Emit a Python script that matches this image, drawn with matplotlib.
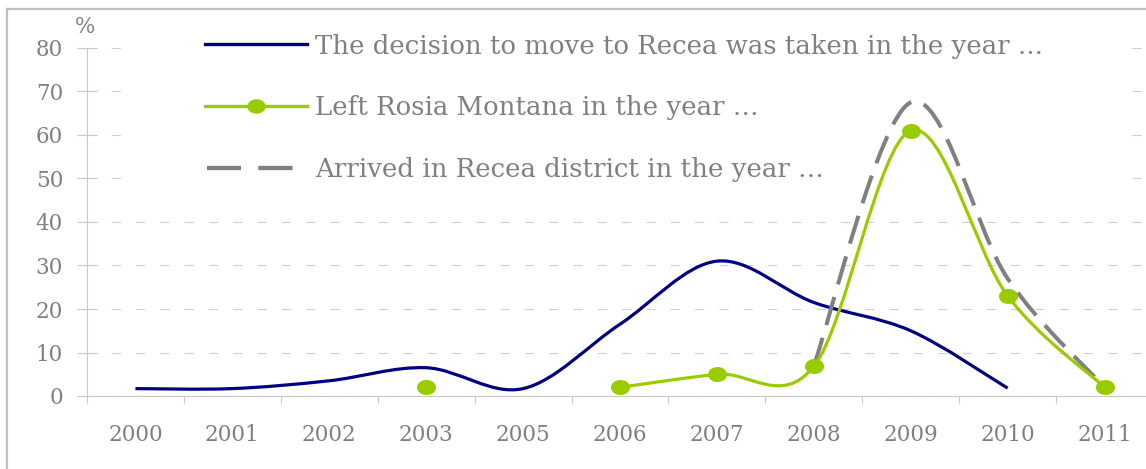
import numpy as np
import matplotlib
matplotlib.use("Agg")
import matplotlib.pyplot as plt
from matplotlib.path import Path
from matplotlib.patches import PathPatch, Rectangle
from matplotlib.lines import Line2D
from matplotlib.markers import MarkerStyle

plt.rcParams['font.family'] = ['DejaVu Serif']
plt.rcParams['lines.scale_dashes'] = False

# ---- data -------------------------------------------------------------
years = ['2000', '2001', '2002', '2003', '2005', '2006',
         '2007', '2008', '2009', '2010', '2011']
nan = np.nan
decision_taken = [1.7, 1.7, 3.5, 6.5, 1.7, 16.5, 31.0, 21.5, 15.0, 1.8, nan]
left_rosia = [nan, nan, nan, 2.0, nan, 2.0, 5.0, 6.8, 61.0, 23.0, 2.0]
arrived_recea = [nan, nan, nan, nan, nan, nan, nan, 7.0, 67.5, 27.0, 2.0]

labels = ['The decision to move to Recea was taken in the year ...',
          'Left Rosia Montana in the year \u2026',
          'Arrived in Recea district in the year \u2026']

NAVY = '#000080'
GREEN = '#99CC00'
DGRAY = '#808080'
TEXT = '#808080'
AXIS = '#C8C8C8'
GRID = '#CFCFCF'

W, H = 1146, 469
fig = plt.figure(figsize=(W / 100, H / 100), dpi=100)
fx = lambda px: px / W
fy = lambda py: 1 - py / H

ax = fig.add_axes([fx(87), 1 - 396 / H, 1066 / W, 348 / H])
x = np.arange(len(years))


def runs(vals):
    """Split a series into contiguous runs of finite values."""
    out, cur = [], []
    for i, v in enumerate(vals):
        if np.isfinite(v):
            cur.append(i)
        elif cur:
            out.append(cur)
            cur = []
    if cur:
        out.append(cur)
    return out


def smooth_path(xs, ys):
    """Cubic Bezier path through the points (smoothed line)."""
    n = len(xs)
    verts = [(xs[0], ys[0])]
    codes = [Path.MOVETO]
    for i in range(n - 1):
        a = i - 1 if i > 0 else i
        d = i + 2 if i + 2 < n else i + 1
        c1 = (xs[i] + (xs[i + 1] - xs[a]) / 6, ys[i] + (ys[i + 1] - ys[a]) / 6)
        c2 = (xs[i + 1] - (xs[d] - xs[i]) / 6, ys[i + 1] - (ys[d] - ys[i]) / 6)
        verts += [c1, c2, (xs[i + 1], ys[i + 1])]
        codes += [Path.CURVE4] * 3
    return Path(verts, codes)


def draw_series(vals, color, lw, ls, z):
    vals = np.asarray(vals, float)
    for r in runs(vals):
        if len(r) < 2:
            continue
        p = smooth_path(x[r].astype(float), vals[r])
        ax.add_patch(PathPatch(p, fill=False, edgecolor=color, lw=lw,
                               linestyle=ls, capstyle='butt',
                               joinstyle='round', zorder=z))


# elliptical marker
t = np.linspace(0, 2 * np.pi, 60)
ell = Path(np.column_stack([np.cos(t), 0.79 * np.sin(t)]), closed=True)
ell_marker = MarkerStyle(ell)

dash_plot = (0, (21.0, 9.5))
draw_series(decision_taken, NAVY, 2.3, '-', 2)
draw_series(arrived_recea, DGRAY, 2.9, dash_plot, 2.5)
draw_series(left_rosia, GREEN, 2.3, '-', 3)
ax.plot(x, left_rosia, linestyle='none', marker=ell_marker, ms=13.7,
        mfc=GREEN, mec=GREEN, mew=0, zorder=3.5)

# ---- axes styling -----------------------------------------------------
ax.set_xlim(-0.5, len(years) - 0.5)
ax.set_ylim(0, 80)
ax.set_yticks(np.arange(0, 81, 10))
ax.set_xticks(x)
ax.set_xticklabels(years)
ax.set_xticks(np.arange(-0.5, len(years), 1.0), minor=True)

for s in ['top', 'right']:
    ax.spines[s].set_visible(False)
for s in ['left', 'bottom']:
    ax.spines[s].set_color(AXIS)
    ax.spines[s].set_linewidth(0.8)

ax.tick_params(axis='y', which='major', direction='inout', length=13.7,
               width=0.8, color=AXIS, pad=10.4, labelsize=15.5,
               labelcolor=TEXT)
ax.tick_params(axis='x', which='major', length=0, pad=20, labelsize=15.5,
               labelcolor=TEXT)
ax.tick_params(axis='x', which='minor', direction='out', length=5,
               width=0.8, color=AXIS)

ax.set_axisbelow(True)
ax.yaxis.grid(True, color=GRID, lw=0.8, linestyle=(0, (6.5, 11.0)))

# white backdrop of the legend area over the grid
ax.add_patch(Rectangle((-0.11, 45), 10.28, 37, facecolor='white',
                       edgecolor='none', zorder=1.5, clip_on=False))

# ---- legend -----------------------------------------------------------
rows = [44.3, 106.0, 167.7]
fig.add_artist(Line2D([fx(205), fx(307)], [fy(rows[0])] * 2, color=NAVY,
                      lw=2.4, transform=fig.transFigure))
fig.add_artist(Line2D([fx(205), fx(307)], [fy(rows[1])] * 2, color=GREEN,
                      lw=2.4, transform=fig.transFigure))
fig.add_artist(Line2D([fx(256)], [fy(rows[1])], color=GREEN, marker=ell_marker,
                      ms=13.2, mew=0, linestyle='none',
                      transform=fig.transFigure))
fig.add_artist(Line2D([fx(207), fx(307)], [fy(rows[2])] * 2, color=DGRAY,
                      lw=3.1, linestyle=(0, (24.5, 12.5)),
                      transform=fig.transFigure))
for r, lab in zip(rows, labels):
    fig.text(fx(315), fy(r + 9.3), lab, fontsize=18.7, color=TEXT,
             ha='left', va='baseline')

# unit label
fig.text(fx(85), fy(27), '%', fontsize=15.5, color=TEXT, ha='center',
         va='center')

# outer frame
fig.add_artist(Line2D([fx(7.3), fx(7.3)], [fy(475), fy(9)], color='#BFBFBF',
                      lw=1.6, transform=fig.transFigure))
fig.add_artist(Line2D([fx(7.3), fx(1150)], [fy(9), fy(9)], color='#BFBFBF',
                      lw=1.6, transform=fig.transFigure))

fig.savefig('out.png', dpi=100)
